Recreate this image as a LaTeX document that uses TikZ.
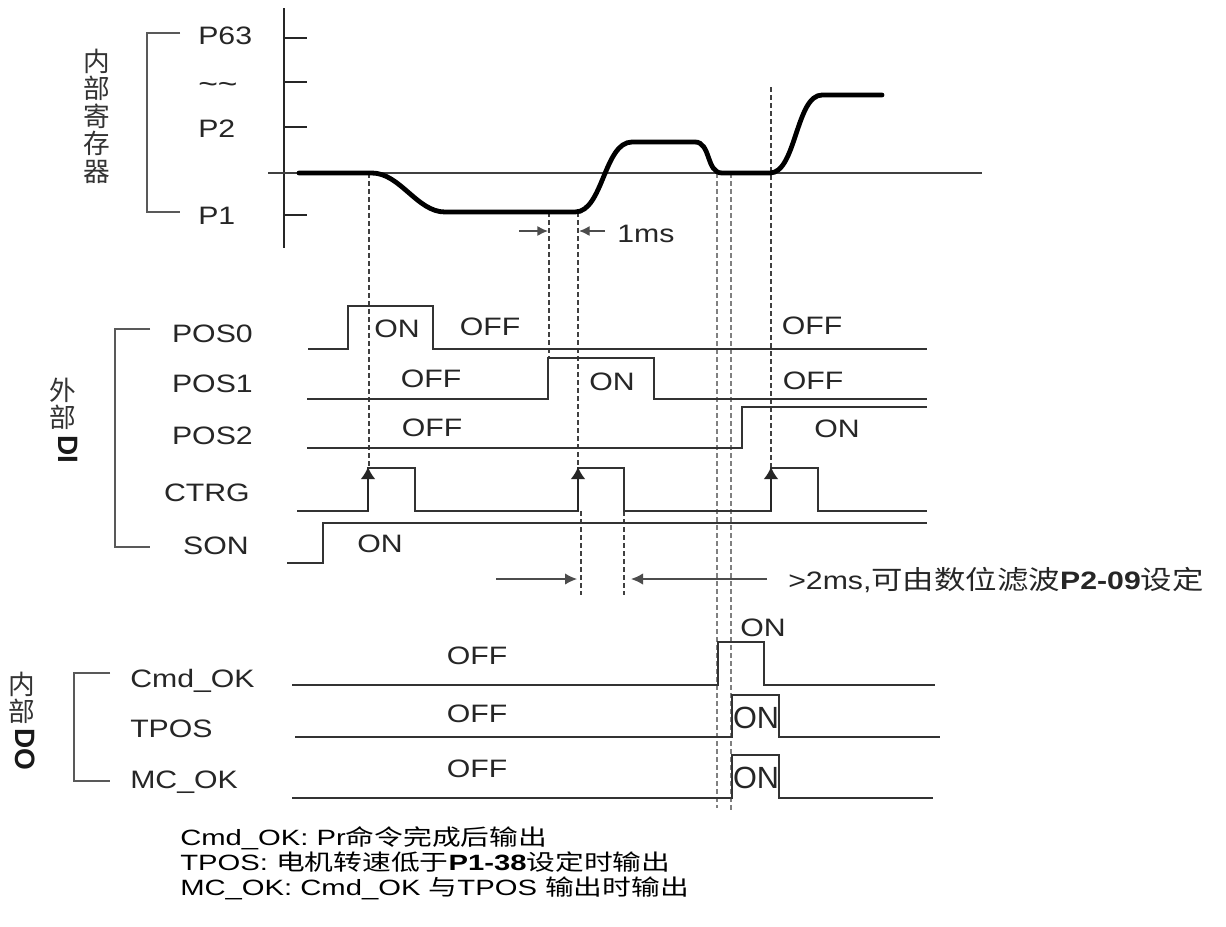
\documentclass[tikz,border=0pt]{standalone}
\usepackage{fontspec}
\setmainfont{Liberation Sans}[FakeStretch=1.2]
\newfontfamily\plainsf{Liberation Sans}
\newfontfamily\widesf{Liberation Sans}[FakeStretch=1.32]
\newfontfamily\cjk{Noto Sans CJK SC}[FakeStretch=1.2, Scale=1.04]
\newfontfamily\widecjk{Noto Sans CJK SC}[FakeStretch=1.3]
\newfontfamily\cjkup{Noto Sans CJK SC}
\usetikzlibrary{arrows.meta}
\newcommand{\zh}[1]{{\cjk #1}}
\newcommand{\zhw}[1]{{\widecjk #1}}

\begin{document}
\begin{tikzpicture}[x=0.75pt, y=-0.75pt,
  every node/.style={font=\fontsize{18.9}{22}\selectfont, inner sep=0pt, text=black!85},
  sig/.style={line width=1.3pt, black!80},
  guideline/.style={dash pattern=on 3.5pt off 2.5pt, line width=0.8pt, black!75},
  bracketline/.style={line width=1.3pt, black!65},
  vlbl/.style={align=center, font=\cjkup\fontsize{20}{20.6}\selectfont, text=black!80},
  vtag/.style={rotate=-90, font=\plainsf\bfseries\fontsize{21}{21}\selectfont, text=black!90},
  edgetip/.style={-{Latex[length=9pt,width=11pt]}, line width=1.3pt, black!85},
  gaparrow/.style={-{Latex[length=8pt,width=7.5pt]}, line width=1pt, black!70},
  narrowon/.style={anchor=base, font=\plainsf\fontsize{23}{23}\selectfont},
  notes/.style={anchor=base west, font=\widesf\fontsize{16.6}{20}\selectfont, text=black}]
  \path[fill=white] (0,0) rectangle (1226,926);
  \useasboundingbox (0,0) rectangle (1226,926);
  % register axis
  \draw[line width=1.9pt, black!85] (284,8) -- (284,248);
  \draw[line width=1.4pt, black!75] (268,173) -- (982,173);
  \foreach \ty in {38,82,127,215} \draw[line width=1.5pt, black!85] (284,\ty) -- (307,\ty);
  \node[anchor=base west] (rP63) at (198,44) {P63};
  \node[anchor=base west, font=\fontsize{21}{22}\selectfont] (rDots) at (198,93) {\textasciitilde\textasciitilde};
  \node[anchor=base west] (rP2) at (198,137) {P2};
  \node[anchor=base west] (rP1) at (198,224) {P1};
  \draw[bracketline] (180,33) -- (147,33) -- (147,212) -- (180,212);
  \node[vlbl] (regTag) at (97,116) {内\\部\\寄\\存\\器};
  % guide lines
  \draw[guideline] (369,173) -- (369,468);
  \draw[guideline] (549,212) -- (549,358);
  \draw[guideline] (578,212) -- (578,468);
  \draw[guideline] (581,511) -- (581,595);
  \draw[guideline] (624,511) -- (624,595);
  \draw[guideline, gray, line width=1.1pt] (717,173) -- (717,808);
  \draw[guideline, gray, line width=1.1pt] (731,173) -- (731,812);
  \draw[guideline] (771,87) -- (771,468);
  % position profile
  \draw[line width=3.6pt, black, line cap=round] (299,173) -- (372,173)
    .. controls (400,173) and (417,212) .. (445,212) -- (575,212)
    .. controls (603,212) and (604,142) .. (632,142) -- (695,142)
    .. controls (711,142) and (706,173) .. (722,173) -- (770,173)
    .. controls (796,173) and (796,95) .. (822,95) -- (882,95);
  \draw[gaparrow] (519,231) -- (548,231);
  \draw[gaparrow] (605,231) -- (579,231);
  \node[anchor=base west] (gap1) at (617,242) {1ms};
  % external DI
  \node[anchor=base east] (nPos0) at (253,342) {POS0};
  \node[anchor=base east] (nPos1) at (253,392) {POS1};
  \node[anchor=base east] (nPos2) at (253,444) {POS2};
  \node[anchor=base east] (nCtrg) at (250,501) {CTRG};
  \node[anchor=base east] (nSon) at (249,554) {SON};
  \draw[bracketline] (150,329) -- (115,329) -- (115,547) -- (150,547);
  \node[vlbl] (diTag) at (63,404) {外\\部};
  \node[vtag] (diCode) at (68,449) {DI};
  \draw[sig] (308,349) -- (348,349) -- (348,306) -- (433,306) -- (433,349) -- (927,349);
  \draw[sig] (307,399) -- (548,399) -- (548,358) -- (654,358) -- (654,399) -- (927,399);
  \draw[sig] (307,448) -- (742,448) -- (742,407) -- (927,407);
  \draw[sig] (297,511) -- (368,511) -- (368,468) -- (415,468) -- (415,511) -- (578,511)
    -- (578,468) -- (624,468) -- (624,511) -- (771,511) -- (771,468) -- (818,468)
    -- (818,511) -- (927,511);
  \draw[sig] (287,563) -- (323,563) -- (323,523) -- (927,523);
  \foreach \ex in {368,578,771} \draw[edgetip] (\ex,511) -- (\ex,467);
  \node[anchor=base] (s0a) at (397,337) {ON};
  \node[anchor=base] (s0b) at (490,335) {OFF};
  \node[anchor=base] (s0c) at (812,334) {OFF};
  \node[anchor=base] (s1a) at (431,387) {OFF};
  \node[anchor=base] (s1b) at (612,390) {ON};
  \node[anchor=base] (s1c) at (813,389) {OFF};
  \node[anchor=base] (s2a) at (432,436) {OFF};
  \node[anchor=base] (s2b) at (837,437) {ON};
  \node[anchor=base] (sSon) at (380,552) {ON};
  \draw[gaparrow, -{Latex[length=9pt,width=8.5pt]}] (496,579) -- (577,579);
  \draw[gaparrow, -{Latex[length=9pt,width=8.5pt]}] (767,579) -- (631,579);
  \node[anchor=base west] (filt) at (788,589) {>2ms,\zh{可由数位滤波}\textbf{P2-09}\zh{设定}};
  % internal DO
  \node[anchor=base west] (nCmd) at (130,687) {Cmd\_OK};
  \node[anchor=base west] (nTpos) at (130,737) {TPOS};
  \node[anchor=base west] (nMc) at (130,788) {MC\_OK};
  \draw[bracketline] (110,673) -- (74,673) -- (74,781) -- (110,781);
  \node[vlbl] (doTag) at (22,698) {内\\部};
  \node[vtag] (doCode) at (25,749) {DO};
  \draw[sig] (292,685) -- (718,685) -- (718,642) -- (764,642) -- (764,685) -- (935,685);
  \draw[sig] (295,737) -- (732,737) -- (732,695) -- (779,695) -- (779,737) -- (940,737);
  \draw[sig] (292,798) -- (732,798) -- (732,755) -- (779,755) -- (779,798) -- (933,798);
  \node[anchor=base] (oCmdOff) at (477,664) {OFF};
  \node[anchor=base] (oTposOff) at (477,722) {OFF};
  \node[anchor=base] (oMcOff) at (477,777) {OFF};
  \node[anchor=base] (oCmdOn) at (763,636) {ON};
  \node[narrowon] (oTposOn) at (756,728) {ON};
  \node[narrowon] (oMcOn) at (756,788) {ON};
  % notes
  \node[notes] (note1) at (180,845) {Cmd\_OK: Pr\zhw{命令完成后输出}};
  \node[notes] (note2) at (180,870) {TPOS: \zhw{电机转速低于}\textbf{P1-38}\zhw{设定时输出}};
  \node[notes] (note3) at (180,895) {MC\_OK: Cmd\_OK \zhw{与}TPOS \zhw{输出时输出}};
\end{tikzpicture}
\end{document}
